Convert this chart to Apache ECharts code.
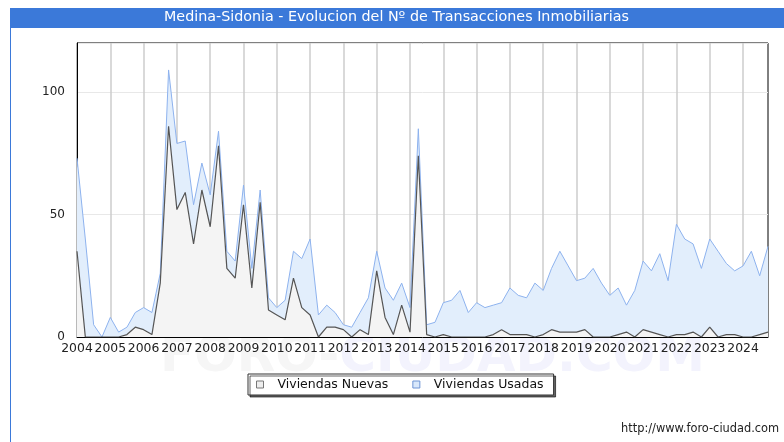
<!DOCTYPE html>
<html>
<head>
<meta charset="utf-8">
<script src="https://cdn.jsdelivr.net/npm/echarts@6/dist/echarts.min.js"></script>
<style>
html,body{margin:0;padding:0;background:#fff;}
#main{width:784px;height:442px;}
</style>
</head>
<body>
<div id="main"></div>
<script>
const years = ['2004','2005','2006','2007','2008','2009','2010','2011','2012','2013','2014','2015','2016','2017','2018','2019','2020','2021','2022','2023','2024'];
const quarterNames = ['T1','T2','T3','T4'];
const yTicks = [0, 50, 100];

const viviendasUsadas = [
  73, 40, 5, 0, 8, 2, 4, 10, 12, 10, 26, 109,
  79, 80, 54, 71, 58, 84, 35, 31, 62, 28, 60, 16,
  12, 15, 35, 32, 40, 9, 13, 10, 5, 4, 10, 16,
  35, 20, 15, 22, 12, 85, 5, 6, 14, 15, 19, 10,
  14, 12, 13, 14, 20, 17, 16, 22, 19, 28, 35, 29,
  23, 24, 28, 22, 17, 20, 13, 19, 31, 27, 34, 23,
  46, 40, 38, 28, 40, 35, 30, 27, 29, 35, 25, 37
];
const viviendasNuevas = [
  35, 0, 0, 0, 0, 0, 1, 4, 3, 1, 22, 86,
  52, 59, 38, 60, 45, 78, 28, 24, 54, 20, 55, 11,
  9, 7, 24, 12, 9, 0, 4, 4, 3, 0, 3, 1,
  27, 8, 1, 13, 2, 74, 1, 0, 1, 0, 0, 0,
  0, 0, 1, 3, 1, 1, 1, 0, 1, 3, 2, 2,
  2, 3, 0, 0, 0, 1, 2, 0, 3, 2, 1, 0,
  1, 1, 2, 0, 4, 0, 1, 1, 0, 0, 1, 2
];

const categories = [];
years.forEach(y => quarterNames.forEach(q => categories.push(y + ' ' + q)));

const chart = echarts.init(document.getElementById('main'), null, {renderer: 'canvas'});
const font = 'DejaVu Sans';
const yearTick = (idx) => idx % 4 === 0;

chart.setOption({
  animation: false,
  backgroundColor: '#fff',
  graphic: [
    {type: 'rect', left: 10, top: 8, shape: {width: 774, height: 20}, style: {fill: '#3b79d9'}, z: 0},
    {type: 'rect', left: 10, top: 28, shape: {width: 1, height: 414}, style: {fill: '#3b79d9'}, z: 0},
    {type: 'text', left: 164, top: 10.5, style: {text: 'Medina-Sidonia - Evolucion del Nº de Transacciones Inmobiliarias', fill: '#fff', font: '14.3px "DejaVu Sans"'}, z: 10},
    {type: 'text', left: 160, top: 333, style: {
      text: '{a|FORO-}{b|CIUDAD.COM}',
      rich: {
        a: {fill: '#f6f6f6', fontSize: 50, fontFamily: font, fontWeight: 'bold'},
        b: {fill: '#f3f3fd', fontSize: 50, fontFamily: font, fontWeight: 'bold'}
      }
    }, z: -10, silent: true},
    {type: 'text', left: 621, top: 424, style: {text: 'http://www.foro-ciudad.com', fill: '#222', font: '11.4px "DejaVu Sans"'}, z: 10}
  ],
  grid: {
    left: 77, right: 16, top: 43, bottom: 105,
    show: true, borderColor: '#000', borderWidth: 1, backgroundColor: 'transparent'
  },
  legend: {
    left: 248, top: 374,
    padding: [4, 10, 4, 8],
    itemWidth: 7, itemHeight: 7, itemGap: 24,
    backgroundColor: '#fff',
    borderColor: '#333', borderWidth: 1,
    shadowColor: 'rgba(0,0,0,0.6)', shadowOffsetX: 2, shadowOffsetY: 2, shadowBlur: 0,
    textStyle: {fontFamily: font, fontSize: 12.5, color: '#111', padding: [0, 0, 0, 9]},
    data: [
      {name: 'Viviendas Nuevas', icon: 'rect', itemStyle: {color: '#eeeeee', borderColor: '#777', borderWidth: 1}},
      {name: 'Viviendas Usadas', icon: 'rect', itemStyle: {color: '#d9e8fb', borderColor: '#6f95d4', borderWidth: 1}}
    ]
  },
  xAxis: {
    type: 'category',
    data: categories,
    boundaryGap: false,
    axisLine: {lineStyle: {color: '#000', width: 1}},
    axisTick: {show: false},
    axisLabel: {
      interval: (idx) => yearTick(idx),
      formatter: (v) => v.split(' ')[0],
      fontFamily: font, fontSize: 12.4, color: '#222', margin: 6
    },
    splitLine: {show: true, interval: (idx) => yearTick(idx), lineStyle: {color: '#cccccc', width: 1.5}}
  },
  yAxis: {
    type: 'value',
    min: 0, max: 120, interval: 50,
    axisLine: {show: true, lineStyle: {color: '#000', width: 1}},
    axisTick: {show: false},
    axisLabel: {
      formatter: (v) => (yTicks.indexOf(v) >= 0 ? String(v) : ''),
      fontFamily: font, fontSize: 12, color: '#222', margin: 12
    },
    splitLine: {lineStyle: {color: '#e8e8e8', width: 1}}
  },
  series: [
    {
      name: 'Viviendas Usadas', type: 'line', data: viviendasUsadas,
      showSymbol: false, symbol: 'none',
      itemStyle: {color: '#d9e8fb'},
      lineStyle: {color: '#8db2ee', width: 1},
      areaStyle: {color: '#e2eefc', opacity: 1},
      z: 2
    },
    {
      name: 'Viviendas Nuevas', type: 'line', data: viviendasNuevas,
      showSymbol: false, symbol: 'none',
      itemStyle: {color: '#eeeeee'},
      lineStyle: {color: '#555555', width: 1.2},
      areaStyle: {color: '#f4f4f4', opacity: 1},
      z: 3
    }
  ]
});
</script>
</body>
</html>
